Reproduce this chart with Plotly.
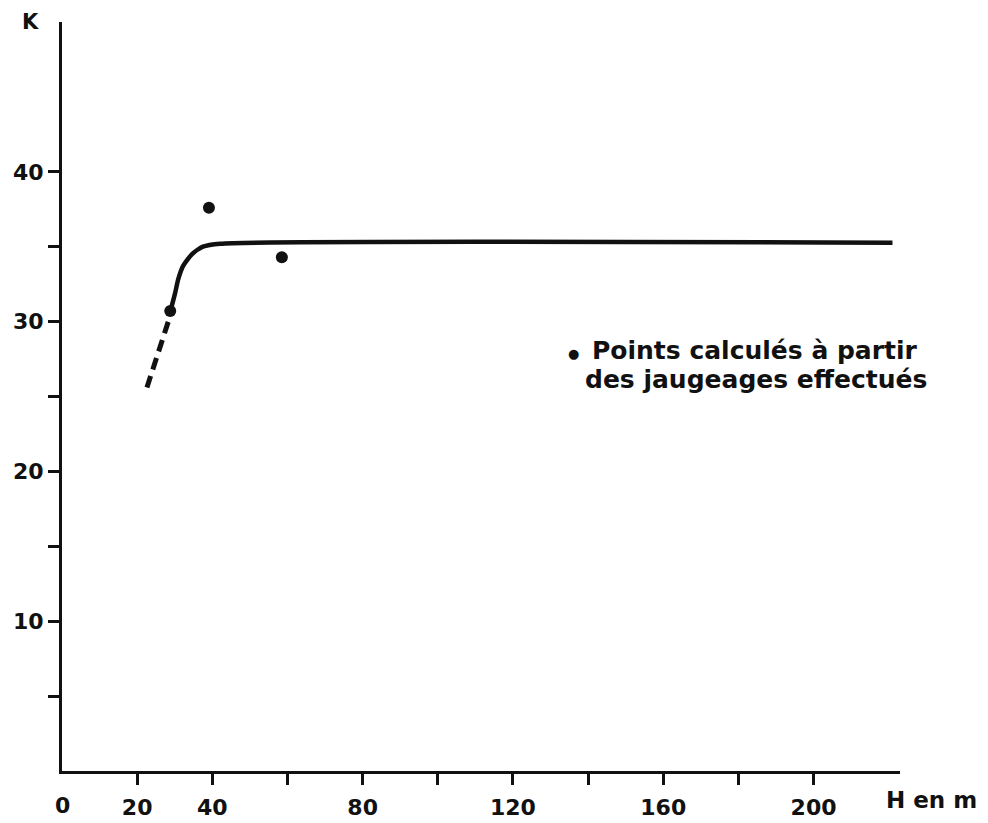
import plotly.graph_objects as go

# Fitted K(H) curve (solid) and its extrapolated lower part (dashed)
curve_h = [28.8, 30.1, 30.9, 32.2, 34.6, 37.5, 42.1, 221.0]
curve_k = [30.66, 31.9, 32.8, 33.7, 34.5, 35.0, 35.2, 35.27]
dash_h = [22.6, 28.8]
dash_k = [25.6, 30.4]

# Points computed from the gaugings
pts_h = [28.8, 39.1, 58.5]
pts_k = [30.7, 37.6, 34.3]

# Axis ticks (the origin label is written separately, without a tick mark)
x_ticks = [20, 40, 60, 80, 100, 120, 140, 160, 180, 200]
x_labels = ["20", "40", "", "80", "", "120", "", "160", "", "200"]
y_ticks = [5, 10, 15, 20, 25, 30, 35, 40]
y_labels = ["", "10", "", "20", "", "30", "", "40"]

FONT = "DejaVu Sans"
INK = "#111111"

# Plot-area geometry in pixels
W, H = 988, 823
ML, MR, MT, MB = 62, 88, 22, 52

fig = go.Figure()
fig.add_trace(go.Scatter(
    x=dash_h, y=dash_k, mode="lines",
    line=dict(color=INK, width=5, dash="12px,7px"),
    hoverinfo="skip", showlegend=False,
))
fig.add_trace(go.Scatter(
    x=curve_h, y=curve_k, mode="lines",
    line=dict(color=INK, width=4.5, shape="spline", smoothing=0.6),
    showlegend=False,
))
fig.add_trace(go.Scatter(
    x=pts_h, y=pts_k, mode="markers",
    marker=dict(color=INK, size=12),
    showlegend=False,
))

axis_common = dict(
    showline=True, linecolor=INK, linewidth=3,
    ticks="outside", ticklen=11, tickwidth=2.5, tickcolor=INK,
    showgrid=False, zeroline=False, automargin=False,
    tickfont=dict(family=FONT, size=22, color=INK, weight=700),
)

fig.update_layout(
    width=W, height=H,
    margin=dict(l=ML, r=MR, t=MT, b=MB),
    paper_bgcolor="white", plot_bgcolor="white",
    xaxis=dict(range=[0, 223], tickvals=x_ticks, ticktext=x_labels,
               ticklabelstandoff=4, **axis_common),
    yaxis=dict(range=[0, 50], tickvals=y_ticks, ticktext=y_labels, **axis_common),
)


def px_text(x, y, text, size, anchor="center", bold=True):
    """Place a text at pixel position (x, y) of the page."""
    fig.add_annotation(
        x=(x - ML) / (W - ML - MR), y=(H - MB - y) / (H - MT - MB),
        xref="paper", yref="paper", text=text, showarrow=False,
        xanchor=anchor, yanchor="middle",
        font=dict(family=FONT, size=size, color=INK, weight=700 if bold else 400),
    )


# Axis titles and origin label
px_text(30, 22, "K", 21)
px_text(931, 800, "H en m", 23)
px_text(62, 806, "0", 22)

# Key for the computed points
px_text(573, 353, "●", 13, bold=False)
px_text(590, 350, "Points calculés à partir", 25, anchor="left")
px_text(583, 380, "des jaugeages effectués", 25, anchor="left")

fig.write_html("out.html")
